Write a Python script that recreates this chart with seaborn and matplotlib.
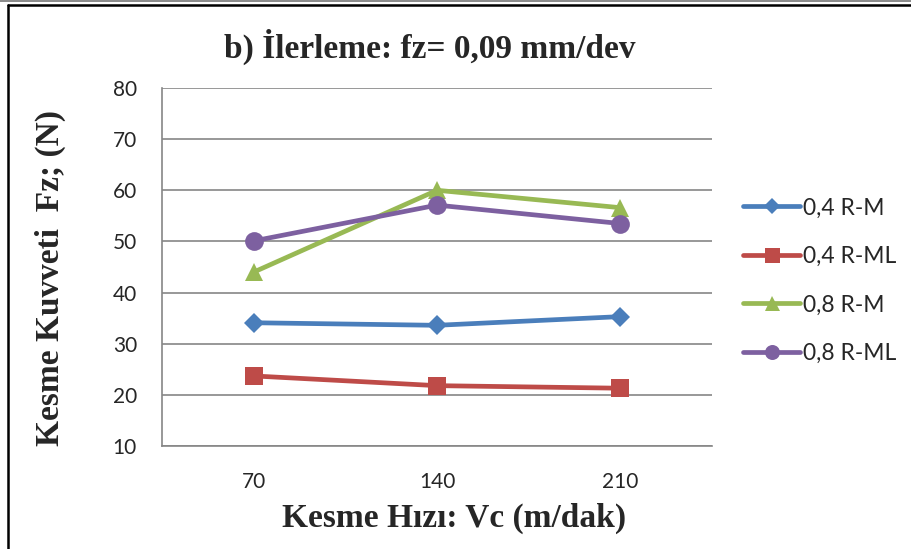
import matplotlib
matplotlib.use("Agg")
import matplotlib.pyplot as plt
from matplotlib.lines import Line2D
import seaborn as sns

# Cutting speed categories and measured cutting force Fz (N)
speeds = ["70", "140", "210"]
series_names = ["0,4 R-M", "0,4 R-ML", "0,8 R-M", "0,8 R-ML"]
fz_04_rm = [34.1, 33.6, 35.3]
fz_04_rml = [23.7, 21.8, 21.3]
fz_08_rm = [44.0, 60.0, 56.6]
fz_08_rml = [50.1, 57.1, 53.5]
yticks = [10, 20, 30, 40, 50, 60, 70, 80]

values = [fz_04_rm, fz_04_rml, fz_08_rm, fz_08_rml]
colors = ["#4A7EBB", "#BE4B48", "#98B954", "#7D60A0"]
markers = ["D", "s", "^", "o"]
msizes = [10, 13.5, 13.5, 13.5]

sns.set_style("white")
plt.rcParams["font.family"] = ["Lato", "DejaVu Sans"]

W, H = 912, 549
fig = plt.figure(figsize=(W / 100, H / 100), dpi=100)
ax = fig.add_axes([162 / W, 1 - 446 / H, (712 - 162) / W, (446 - 88) / H])

for name, vals, c, m, ms in zip(series_names, values, colors, markers, msizes):
    sns.lineplot(x=speeds, y=vals, ax=ax, color=c, marker=m, markersize=ms,
                 markeredgecolor=c, markeredgewidth=0, linewidth=3.4,
                 label=name, sort=False)

ax.set_xlim(-0.5, 2.5)
ax.set_ylim(10, 80)
ax.set_yticks(yticks)
ax.set_yticklabels([str(v) for v in yticks], fontsize=15)
ax.set_xticks([0, 1, 2])
ax.set_xticklabels(speeds, fontsize=15)
ax.set_xticks([-0.5, 0.5, 1.5, 2.5], minor=True)
ax.tick_params(axis="x", which="major", length=0, pad=19)
ax.tick_params(axis="x", which="minor", length=7, width=1.2, color="#868686", direction="out")
ax.tick_params(axis="y", length=7, width=1.2, color="#868686", direction="out", pad=11)

ax.grid(axis="y", color="#868686", linewidth=1.2)
ax.set_axisbelow(True)
for s in ["top", "right"]:
    ax.spines[s].set_visible(False)
for s in ["left", "bottom"]:
    ax.spines[s].set_color("#868686")
    ax.spines[s].set_linewidth(1.2)

serif = ["Liberation Serif", "DejaVu Serif"]
fig.text(430 / W, 1 - 47 / H, "b) İlerleme: fz= 0,09 mm/dev", ha="center", va="center",
         fontsize=24, fontweight="bold", family=serif)
fig.text(454 / W, 1 - 518 / H, "Kesme Hızı: Vc (m/dak)", ha="center", va="center",
         fontsize=24, fontweight="bold", family=serif)
fig.text(50 / W, 1 - 278 / H, "Kesme Kuvveti  Fz; (N)", ha="center", va="center",
         rotation=90, fontsize=24, fontweight="bold", family=serif)

leg = ax.legend(loc="center left", bbox_to_anchor=(1.04, 0.462), frameon=False,
                fontsize=16.5, handlelength=2.5, handletextpad=0.1, labelspacing=1.2,
                borderaxespad=0)
for h in leg.legend_handles:
    h.set_markersize(h.get_markersize() * 0.8)

# Chart frame: double rule on top, single rule on the left
fig.add_artist(Line2D([0, 1], [1 - 0.8 / H, 1 - 0.8 / H], color="#777777", linewidth=1.2))
fig.add_artist(Line2D([8 / W, 1], [1 - 4.5 / H, 1 - 4.5 / H], color="black", linewidth=1.8))
fig.add_artist(Line2D([8.5 / W, 8.5 / W], [0, 1 - 4.5 / H], color="black", linewidth=1.8))

fig.savefig("out.png", dpi=100)
